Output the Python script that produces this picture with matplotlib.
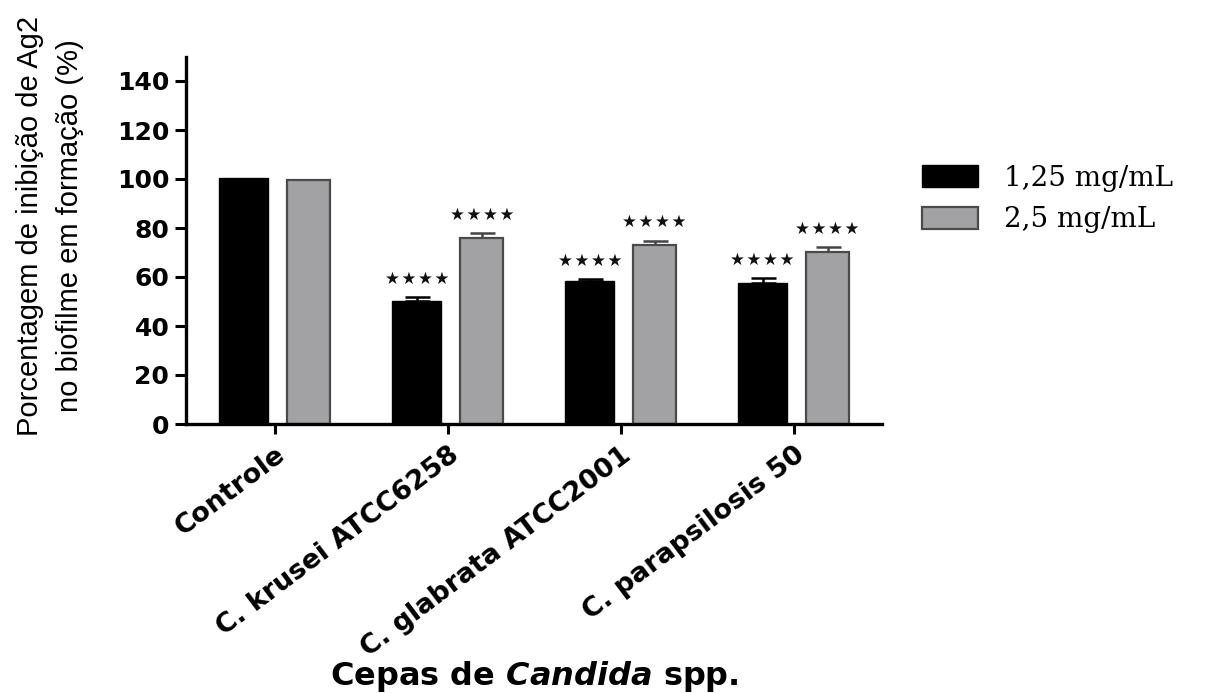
import matplotlib
matplotlib.use("Agg")
import matplotlib.pyplot as plt
import numpy as np

# Data
categories = ["Controle", "C. krusei ATCC6258", "C. glabrata ATCC2001", "C. parapsilosis 50"]
series_labels = ["1,25 mg/mL", "2,5 mg/mL"]
low_dose = [100.5, 50.3, 58.5, 57.7]
low_dose_err = [0.0, 1.5, 0.7, 1.8]
high_dose = [99.6, 76.0, 73.0, 70.3]
high_dose_err = [0.0, 2.0, 1.8, 1.8]
significance = [["", "****", "****", "****"], ["", "****", "****", "****"]]

plt.rcParams["mathtext.fontset"] = "custom"
plt.rcParams["mathtext.it"] = "DejaVu Sans:bold:italic"
plt.rcParams["mathtext.rm"] = "DejaVu Sans:bold"

fig = plt.figure(figsize=(12.08, 6.93), dpi=100)
ax_left, ax_right = 186 / 1208, 882 / 1208
ax_bottom, ax_top = 1 - 424 / 693, 1 - 56.5 / 693
ax = fig.add_axes([ax_left, ax_bottom, ax_right - ax_left, ax_top - ax_bottom])

x = np.arange(len(categories))
black_w, gray_w = 0.283, 0.25
black_off, gray_off = -0.18, 0.195
gray = "#A2A2A5"

ax.bar(x + black_off, low_dose, width=black_w, color="black", edgecolor="black",
       linewidth=1.0, label=series_labels[0], zorder=2)
ax.bar(x + gray_off, high_dose, width=gray_w, color=gray, edgecolor="#4a4a4a",
       linewidth=1.6, label=series_labels[1], zorder=2)

for xs, vals, errs, col in [(x + black_off, low_dose, low_dose_err, "black"),
                            (x + gray_off, high_dose, high_dose_err, "#444444")]:
    mask = np.array(errs) > 0
    ax.errorbar(xs[mask], np.array(vals)[mask],
                yerr=[np.zeros(mask.sum()), np.array(errs)[mask]],
                fmt="none", ecolor=col, elinewidth=1.8, capsize=9, capthick=1.8, zorder=1)

# Significance stars above each bar
for xs, vals, errs, marks in [(x + black_off, low_dose, low_dose_err, significance[0]),
                              (x + gray_off, high_dose, high_dose_err, significance[1])]:
    for xi, v, e, m in zip(xs, vals, errs, marks):
        if m:
            ax.text(xi, v + e + 7.5, "\u200a".join("\u2605" * len(m)), ha="center", va="center",
                    fontsize=12, color="#111111", family="DejaVu Sans")

ax.set_xlim(-0.515, 3.51)
ax.set_ylim(0, 150)
ax.set_yticks(np.arange(0, 141, 20))
ax.set_xticks(x)
ax.set_xticklabels(categories, rotation=37, ha="right", va="top", rotation_mode="anchor",
                   fontsize=19.5, fontweight="bold", family="DejaVu Sans")
for lbl in ax.get_yticklabels():
    lbl.set_fontsize(18)
    lbl.set_fontweight("bold")
    lbl.set_family("DejaVu Sans")

for side in ["top", "right"]:
    ax.spines[side].set_visible(False)
for side in ["left", "bottom"]:
    ax.spines[side].set_linewidth(2.4)
ax.tick_params(axis="y", length=8, width=2.2, pad=4)
ax.tick_params(axis="x", length=7, width=2.2, pad=6)

fig.text(50 / 1208, 1 - 226 / 693,
         "Porcentagem de inibição de Ag2\nno biofilme em formação (%)",
         rotation=90, ha="center", va="center", multialignment="center",
         fontsize=21, family="Liberation Sans", linespacing=1.5)

fig.text((ax_left + ax_right) / 2, 1 - 677 / 693, r"Cepas de $\mathit{Candida}$ spp.",
         ha="center", va="center", fontsize=23, fontweight="bold", family="DejaVu Sans")

fig.legend(loc="upper left", bbox_to_anchor=(922 / 1208, 1 - 165 / 693), frameon=False,
           prop={"family": "DejaVu Serif", "size": 20}, handlelength=2.0, handleheight=0.85,
           handletextpad=0.95, labelspacing=0.52, borderpad=0, borderaxespad=0)

fig.savefig("out.png", dpi=100)
